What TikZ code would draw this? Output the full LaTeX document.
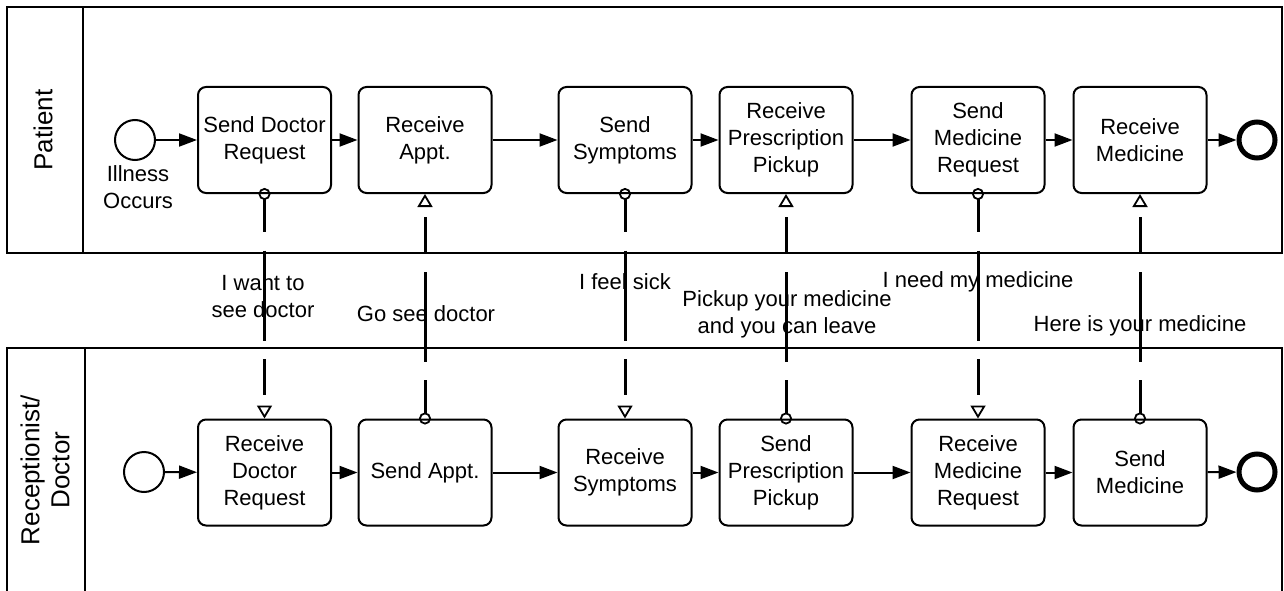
\documentclass[tikz,border=0pt]{standalone}
\usepackage{fontspec}
\setmainfont{Liberation Sans}
\usetikzlibrary{arrows.meta}
\begin{document}
\begin{tikzpicture}[x=1pt,y=-1pt,
  txt/.style={font=\fontsize{22}{27}\selectfont, align=center, inner sep=0pt},
  pooltxt/.style={font=\fontsize{26}{30}\selectfont, align=center, inner sep=0pt, rotate=90},
  pool/.style={draw, line width=2pt},
  task/.style={txt, draw, line width=2pt, rounded corners=8pt, minimum width=133pt, minimum height=106pt},
  startev/.style={draw, circle, line width=2pt, minimum size=40pt, inner sep=0pt},
  endev/.style={draw, circle, line width=5pt, minimum size=36pt, inner sep=0pt},
  seq/.style={line width=2pt, -{Triangle[length=18pt,width=13pt]}},
  msg/.style={line width=3pt, dash pattern=on 33pt off 18.5pt on 90pt off 18.5pt on 36pt off 100pt, shorten <=-6pt,
    {Circle[open,length=12pt,width=12pt,line width=1.8pt]}-{Triangle[open,length=13pt,width=15pt,line width=1.8pt]}}
]
\useasboundingbox (0,0) rectangle (1284,591);
\clip (0,0) rectangle (1284,591);

% pools
\draw[pool] (7,7) rectangle (1282,253);
\draw[pool] (83,7) -- (83,253);
\draw[pool] (7,348) rectangle (1282,600);
\draw[pool] (85,348) -- (85,600);
\node[pooltxt] (lpat) at (43,130) {Patient};
\node[pooltxt] (lrec) at (45,470) {Receptionist/\\Doctor};

% patient row
\node[startev] (p0) at (135,140) {};
\node[txt] (p0l) at (138,187) {Illness\\Occurs};
\node[task] (p1) at (264.5,140) {Send Doctor\\Request};
\node[task] (p2) at (425,140) {Receive\\Appt.};
\node[task] (p3) at (625,140) {Send\\Symptoms};
\node[task] (p4) at (786,140) {Receive\\Prescription\\Pickup};
\node[task] (p5) at (978,140) {Send\\Medicine\\Request};
\node[task] (p6) at (1140,140) {Receive\\Medicine};
\node[endev] (pe) at (1257,140) {};

% receptionist row
\node[startev] (r0) at (144,472) {};
\node[task] (r1) at (264.5,472.5) {Receive\\Doctor\\Request};
\node[task] (r2) at (425,472.5) {Send Appt.};
\node[task] (r3) at (625,472.5) {Receive\\Symptoms};
\node[task] (r4) at (786,472.5) {Send\\Prescription\\Pickup};
\node[task] (r5) at (978,472.5) {Receive\\Medicine\\Request};
\node[task] (r6) at (1140,472.5) {Send\\Medicine};
\node[endev] (re) at (1257,472) {};

% sequence flows
\foreach \a/\b in {p0/p1,p1/p2,p2/p3,p3/p4,p4/p5,p5/p6,p6/pe,r0/r1,r1/r2,r2/r3,r3/r4,r4/r5,r5/r6,r6/re}
  \draw[seq] (\a) -- (\b);

% message flows
\draw[msg] (p1.south) -- (r1.north);
\draw[msg] (r2.north) -- (p2.south);
\draw[msg] (p3.south) -- (r3.north);
\draw[msg] (r4.north) -- (p4.south);
\draw[msg] (p5.south) -- (r5.north);
\draw[msg] (r6.north) -- (p6.south);

% message labels
\node[txt] (m1) at (263,296.5) {I want to\\see doctor};
\node[txt] (m2) at (426,314) {Go see doctor};
\node[txt] (m3) at (625,282) {I feel sick};
\node[txt] (m4) at (787,314.5) {Pickup your medicine\\and you can leave};
\node[txt] (m5) at (978,282) {I need my medicine};
\node[txt] (m6) at (1140,326) {Here is your medicine};
\end{tikzpicture}
\end{document}
